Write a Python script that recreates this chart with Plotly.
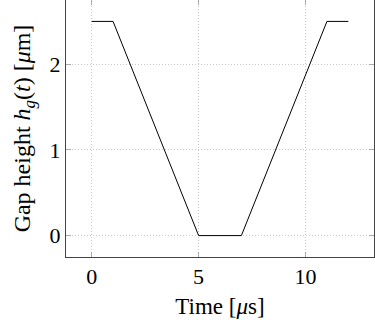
import plotly.graph_objects as go

time_us = [0, 1, 5, 7, 11, 12]
gap_um = [2.5, 2.5, 0, 0, 2.5, 2.5]
x_ticks = [0, 5, 10]
y_ticks = [0, 1, 2]

font_family = "Liberation Serif, DejaVu Serif, serif"

fig = go.Figure()
fig.add_trace(go.Scatter(x=time_us, y=gap_um, mode="lines",
                         line=dict(color="black", width=1), showlegend=False))

axis_common = dict(
    showline=True, mirror="ticks", linecolor="#444444", linewidth=1,
    ticks="inside", ticklen=5, tickcolor="#aaaaaa", tickwidth=1,
    showgrid=True, gridcolor="#c8c8c8", griddash="1px,2px", gridwidth=1,
    zeroline=False,
    tickfont=dict(family=font_family, size=22, color="black"),
)

fig.update_xaxes(range=[-1.2, 13.2], tickvals=x_ticks, ticktext=[str(v) for v in x_ticks],
                 title=dict(text="Time [<i>μ</i>s]", font=dict(family=font_family, size=23, color="black"),
                            standoff=9),
                 **axis_common)
fig.update_yaxes(range=[-0.25, 2.75], tickvals=y_ticks, ticktext=[str(v) for v in y_ticks],
                 title=dict(text="Gap height <i>h<sub>g</sub></i>(<i>t</i>) [<i>μ</i>m]",
                            font=dict(family=font_family, size=24, color="black"), standoff=12),
                 **axis_common)

fig.update_layout(
    width=375, height=327,
    margin=dict(l=66, r=1, t=0, b=70),
    paper_bgcolor="white", plot_bgcolor="white",
)

fig.write_html("out.html")
